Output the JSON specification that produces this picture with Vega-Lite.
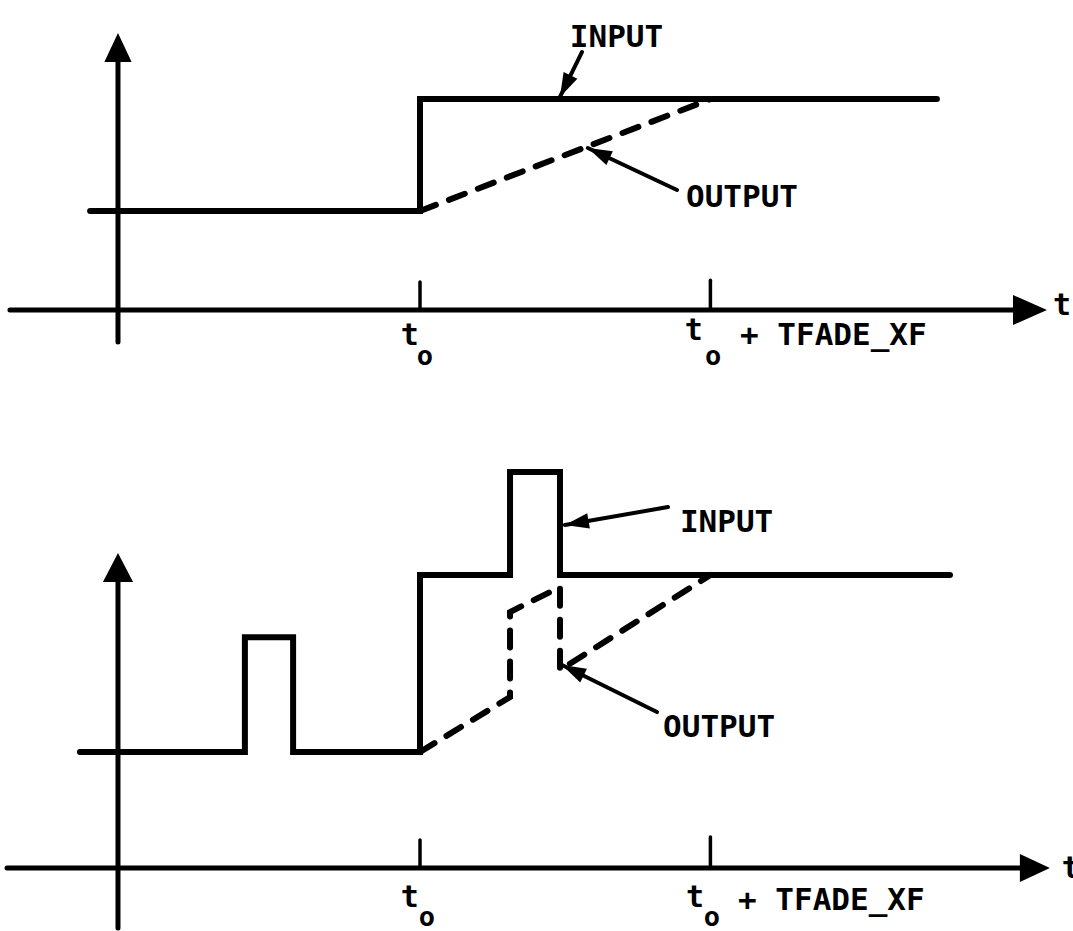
{
  "$schema": "https://vega.github.io/schema/vega-lite/v6.json",
  "padding": 0,
  "spacing": 0,
  "background": "white",
  "config": {"view": {"stroke": null}, "font": "DejaVu Sans Mono"},
  "datasets": {
    "signals": [
      {"panel": "top", "series": "INPUT", "i": 0, "t": -0.096, "v": 1.0},
      {"panel": "top", "series": "INPUT", "i": 1, "t": 1.04, "v": 1.0},
      {"panel": "top", "series": "INPUT", "i": 2, "t": 1.04, "v": 2.13},
      {"panel": "top", "series": "INPUT", "i": 3, "t": 2.82, "v": 2.13},
      {"panel": "top", "series": "OUTPUT", "i": 0, "t": 1.04, "v": 1.0},
      {"panel": "top", "series": "OUTPUT", "i": 1, "t": 2.04, "v": 2.13},
      {"panel": "bottom", "series": "INPUT", "i": 0, "t": -0.131, "v": 1.0},
      {"panel": "bottom", "series": "INPUT", "i": 1, "t": 0.437, "v": 1.0},
      {"panel": "bottom", "series": "INPUT", "i": 2, "t": 0.437, "v": 1.99},
      {"panel": "bottom", "series": "INPUT", "i": 3, "t": 0.603, "v": 1.99},
      {"panel": "bottom", "series": "INPUT", "i": 4, "t": 0.603, "v": 1.0},
      {"panel": "bottom", "series": "INPUT", "i": 5, "t": 1.04, "v": 1.0},
      {"panel": "bottom", "series": "INPUT", "i": 6, "t": 1.04, "v": 2.526},
      {"panel": "bottom", "series": "INPUT", "i": 7, "t": 1.35, "v": 2.526},
      {"panel": "bottom", "series": "INPUT", "i": 8, "t": 1.35, "v": 3.414},
      {"panel": "bottom", "series": "INPUT", "i": 9, "t": 1.522, "v": 3.414},
      {"panel": "bottom", "series": "INPUT", "i": 10, "t": 1.522, "v": 2.526},
      {"panel": "bottom", "series": "INPUT", "i": 11, "t": 2.865, "v": 2.526},
      {"panel": "bottom", "series": "OUTPUT", "i": 0, "t": 1.04, "v": 1.0},
      {"panel": "bottom", "series": "OUTPUT", "i": 1, "t": 1.35, "v": 1.474},
      {"panel": "bottom", "series": "OUTPUT", "i": 2, "t": 1.35, "v": 2.207},
      {"panel": "bottom", "series": "OUTPUT", "i": 3, "t": 1.522, "v": 2.422},
      {"panel": "bottom", "series": "OUTPUT", "i": 4, "t": 1.522, "v": 1.707},
      {"panel": "bottom", "series": "OUTPUT", "i": 5, "t": 2.04, "v": 2.526}
    ],
    "axes": [
      {"panel": "top", "kind": "axis", "t": -0.372, "v": 0, "t2": 3.09, "v2": 0},
      {"panel": "top", "kind": "axis", "t": 0, "v": -0.323, "t2": 0, "v2": 2.52},
      {"panel": "top", "kind": "tick", "t": 1.04, "v": 0, "t2": 1.04, "v2": 0.283},
      {"panel": "top", "kind": "tick", "t": 2.04, "v": 0, "t2": 2.04, "v2": 0.3},
      {"panel": "bottom", "kind": "axis", "t": -0.382, "v": 0, "t2": 3.11, "v2": 0},
      {"panel": "bottom", "kind": "axis", "t": 0, "v": -0.517, "t2": 0, "v2": 2.48},
      {"panel": "bottom", "kind": "tick", "t": 1.04, "v": 0, "t2": 1.04, "v2": 0.241},
      {"panel": "bottom", "kind": "tick", "t": 2.04, "v": 0, "t2": 2.04, "v2": 0.267}
    ],
    "arrowheads": [
      {"panel": "top", "dir": "up", "t": 0, "v": 2.798},
      {"panel": "top", "dir": "right", "t": 3.199, "v": 0},
      {"panel": "bottom", "dir": "up", "t": 0, "v": 2.716},
      {"panel": "bottom", "dir": "right", "t": 3.209, "v": 0}
    ],
    "callouts": [
      {"panel": "top", "label": "INPUT", "t": 1.522, "v": 2.152, "t2": 1.598, "v2": 2.606},
      {"panel": "top", "label": "OUTPUT", "t": 1.618, "v": 1.636, "t2": 1.925, "v2": 1.212},
      {"panel": "bottom", "label": "INPUT", "t": 1.539, "v": 2.957, "t2": 1.894, "v2": 3.112},
      {"panel": "bottom", "label": "OUTPUT", "t": 1.529, "v": 1.75, "t2": 1.856, "v2": 1.345}
    ],
    "labels": [
      {"panel": "top", "role": "callout", "text": "INPUT", "t": 1.556, "v": 2.657},
      {"panel": "top", "role": "callout", "text": "OUTPUT", "t": 1.956, "v": 1.04},
      {"panel": "top", "role": "tmain", "text": "t", "t": 1.005, "v": -0.354},
      {"panel": "top", "role": "tsub", "text": "o", "t": 1.057, "v": -0.556},
      {"panel": "top", "role": "tmain", "text": "t", "t": 1.983, "v": -0.303},
      {"panel": "top", "role": "tsub", "text": "o", "t": 2.049, "v": -0.556},
      {"panel": "top", "role": "rest", "text": "+ TFADE_XF", "t": 2.142, "v": -0.354},
      {"panel": "top", "role": "axisname", "text": "t", "t": 3.22, "v": -0.051},
      {"panel": "bottom", "role": "callout", "text": "INPUT", "t": 1.935, "v": 2.897},
      {"panel": "bottom", "role": "callout", "text": "OUTPUT", "t": 1.877, "v": 1.129},
      {"panel": "bottom", "role": "tmain", "text": "t", "t": 1.005, "v": -0.336},
      {"panel": "bottom", "role": "tsub", "text": "o", "t": 1.064, "v": -0.5},
      {"panel": "bottom", "role": "tmain", "text": "t", "t": 1.987, "v": -0.336},
      {"panel": "bottom", "role": "tsub", "text": "o", "t": 2.045, "v": -0.5},
      {"panel": "bottom", "role": "rest", "text": "+ TFADE_XF", "t": 2.135, "v": -0.362},
      {"panel": "bottom", "role": "axisname", "text": "t", "t": 3.25, "v": -0.086}
    ]
  },
  "vconcat": [
    {
      "width": 1073,
      "height": 440,
      "encoding": {
        "x": {"field": "t", "type": "quantitative", "scale": {"domain": [-0.4063, 3.2886], "nice": false, "zero": false}, "axis": null},
        "y": {"field": "v", "type": "quantitative", "scale": {"domain": [-1.313, 3.131], "nice": false, "zero": false}, "axis": null}
      },
      "layer": [
        {"data": {"name": "signals"}, "transform": [{"filter": "datum.panel === 'top' && datum.series === 'INPUT'"}],
         "mark": {"type": "line", "color": "black", "strokeWidth": 6, "strokeJoin": "miter", "strokeCap": "round"},
         "encoding": {"order": {"field": "i", "type": "quantitative"}}},
        {"data": {"name": "signals"}, "transform": [{"filter": "datum.panel === 'top' && datum.series === 'OUTPUT'"}],
         "mark": {"type": "line", "color": "black", "strokeWidth": 6, "strokeDash": [17, 14], "strokeCap": "round"},
         "encoding": {"order": {"field": "i", "type": "quantitative"}}},
        {"data": {"name": "axes"}, "transform": [{"filter": "datum.panel === 'top'"}],
         "mark": {"type": "rule", "color": "black", "strokeCap": "round"},
         "encoding": {"x2": {"field": "t2"}, "y2": {"field": "v2"},
           "strokeWidth": {"field": "kind", "type": "nominal", "scale": {"domain": ["axis", "tick"], "range": [5, 3.5]}, "legend": null}}},
        {"data": {"name": "arrowheads"}, "transform": [{"filter": "datum.panel === 'top' && datum.dir === 'up'"}],
         "mark": {"type": "point", "shape": "M0,0L0.47,1L-0.47,1Z", "size": 3364, "filled": true, "color": "black", "opacity": 1, "strokeWidth": 0}},
        {"data": {"name": "arrowheads"}, "transform": [{"filter": "datum.panel === 'top' && datum.dir === 'right'"}],
         "mark": {"type": "point", "shape": "M0,0L-1,-0.44L-1,0.44Z", "size": 4624, "filled": true, "color": "black", "opacity": 1, "strokeWidth": 0}},
        {"data": {"name": "callouts"}, "transform": [{"filter": "datum.panel === 'top'"}],
         "mark": {"type": "rule", "color": "black", "strokeWidth": 4, "strokeCap": "round"},
         "encoding": {"x2": {"field": "t2"}, "y2": {"field": "v2"}}},
        {"data": {"name": "callouts"}, "transform": [{"filter": "datum.panel === 'top' && datum.label === 'INPUT'"}],
         "mark": {"type": "point", "shape": "M0,0L0.32,1L-0.32,1Z", "size": 2304, "angle": 206, "filled": true, "color": "black", "opacity": 1, "strokeWidth": 0}},
        {"data": {"name": "callouts"}, "transform": [{"filter": "datum.panel === 'top' && datum.label === 'OUTPUT'"}],
         "mark": {"type": "point", "shape": "M0,0L0.32,1L-0.32,1Z", "size": 2304, "angle": 295, "filled": true, "color": "black", "opacity": 1, "strokeWidth": 0}},
        {"data": {"name": "labels"}, "transform": [{"filter": "datum.panel === 'top' && (datum.role === 'callout' || datum.role === 'rest')"}],
         "mark": {"type": "text", "align": "left", "baseline": "alphabetic", "fontSize": 31, "fontWeight": "bold", "color": "black", "clip": true},
         "encoding": {"text": {"field": "text"}}},
        {"data": {"name": "labels"}, "transform": [{"filter": "datum.panel === 'top' && datum.role === 'tmain'"}],
         "mark": {"type": "text", "align": "center", "baseline": "alphabetic", "fontSize": 30, "fontWeight": "bold", "color": "black", "clip": true},
         "encoding": {"text": {"field": "text"}}},
        {"data": {"name": "labels"}, "transform": [{"filter": "datum.panel === 'top' && datum.role === 'tsub'"}],
         "mark": {"type": "text", "align": "center", "baseline": "alphabetic", "fontSize": 27, "fontWeight": "bold", "color": "black", "clip": true},
         "encoding": {"text": {"field": "text"}}},
        {"data": {"name": "labels"}, "transform": [{"filter": "datum.panel === 'top' && datum.role === 'axisname'"}],
         "mark": {"type": "text", "align": "left", "baseline": "alphabetic", "fontSize": 30, "fontWeight": "bold", "color": "black", "clip": true},
         "encoding": {"text": {"field": "text"}}}
      ]
    },
    {
      "width": 1073,
      "height": 491,
      "encoding": {
        "x": {"field": "t", "type": "quantitative", "scale": {"domain": [-0.4063, 3.2886], "nice": false, "zero": false}, "axis": null},
        "y": {"field": "v", "type": "quantitative", "scale": {"domain": [-0.543, 3.69], "nice": false, "zero": false}, "axis": null}
      },
      "layer": [
        {"data": {"name": "signals"}, "transform": [{"filter": "datum.panel === 'bottom' && datum.series === 'INPUT'"}],
         "mark": {"type": "line", "color": "black", "strokeWidth": 6, "strokeJoin": "miter", "strokeCap": "round"},
         "encoding": {"order": {"field": "i", "type": "quantitative"}}},
        {"data": {"name": "signals"}, "transform": [{"filter": "datum.panel === 'bottom' && datum.series === 'OUTPUT'"}],
         "mark": {"type": "line", "color": "black", "strokeWidth": 6, "strokeDash": [17, 14], "strokeCap": "round", "strokeJoin": "miter"},
         "encoding": {"order": {"field": "i", "type": "quantitative"}}},
        {"data": {"name": "axes"}, "transform": [{"filter": "datum.panel === 'bottom'"}],
         "mark": {"type": "rule", "color": "black", "strokeCap": "round"},
         "encoding": {"x2": {"field": "t2"}, "y2": {"field": "v2"},
           "strokeWidth": {"field": "kind", "type": "nominal", "scale": {"domain": ["axis", "tick"], "range": [5, 3.5]}, "legend": null}}},
        {"data": {"name": "arrowheads"}, "transform": [{"filter": "datum.panel === 'bottom' && datum.dir === 'up'"}],
         "mark": {"type": "point", "shape": "M0,0L0.52,1L-0.52,1Z", "size": 3364, "filled": true, "color": "black", "opacity": 1, "strokeWidth": 0}},
        {"data": {"name": "arrowheads"}, "transform": [{"filter": "datum.panel === 'bottom' && datum.dir === 'right'"}],
         "mark": {"type": "point", "shape": "M0,0L-1,-0.47L-1,0.47Z", "size": 3600, "filled": true, "color": "black", "opacity": 1, "strokeWidth": 0}},
        {"data": {"name": "callouts"}, "transform": [{"filter": "datum.panel === 'bottom'"}],
         "mark": {"type": "rule", "color": "black", "strokeWidth": 4, "strokeCap": "round"},
         "encoding": {"x2": {"field": "t2"}, "y2": {"field": "v2"}}},
        {"data": {"name": "callouts"}, "transform": [{"filter": "datum.panel === 'bottom' && datum.label === 'INPUT'"}],
         "mark": {"type": "point", "shape": "M0,0L0.32,1L-0.32,1Z", "size": 2304, "angle": 260, "filled": true, "color": "black", "opacity": 1, "strokeWidth": 0}},
        {"data": {"name": "callouts"}, "transform": [{"filter": "datum.panel === 'bottom' && datum.label === 'OUTPUT'"}],
         "mark": {"type": "point", "shape": "M0,0L0.32,1L-0.32,1Z", "size": 2304, "angle": 296, "filled": true, "color": "black", "opacity": 1, "strokeWidth": 0}},
        {"data": {"name": "labels"}, "transform": [{"filter": "datum.panel === 'bottom' && (datum.role === 'callout' || datum.role === 'rest')"}],
         "mark": {"type": "text", "align": "left", "baseline": "alphabetic", "fontSize": 31, "fontWeight": "bold", "color": "black", "clip": true},
         "encoding": {"text": {"field": "text"}}},
        {"data": {"name": "labels"}, "transform": [{"filter": "datum.panel === 'bottom' && datum.role === 'tmain'"}],
         "mark": {"type": "text", "align": "center", "baseline": "alphabetic", "fontSize": 30, "fontWeight": "bold", "color": "black", "clip": true},
         "encoding": {"text": {"field": "text"}}},
        {"data": {"name": "labels"}, "transform": [{"filter": "datum.panel === 'bottom' && datum.role === 'tsub'"}],
         "mark": {"type": "text", "align": "center", "baseline": "alphabetic", "fontSize": 27, "fontWeight": "bold", "color": "black", "clip": true},
         "encoding": {"text": {"field": "text"}}},
        {"data": {"name": "labels"}, "transform": [{"filter": "datum.panel === 'bottom' && datum.role === 'axisname'"}],
         "mark": {"type": "text", "align": "left", "baseline": "alphabetic", "fontSize": 30, "fontWeight": "bold", "color": "black", "clip": true},
         "encoding": {"text": {"field": "text"}}}
      ]
    }
  ]
}
